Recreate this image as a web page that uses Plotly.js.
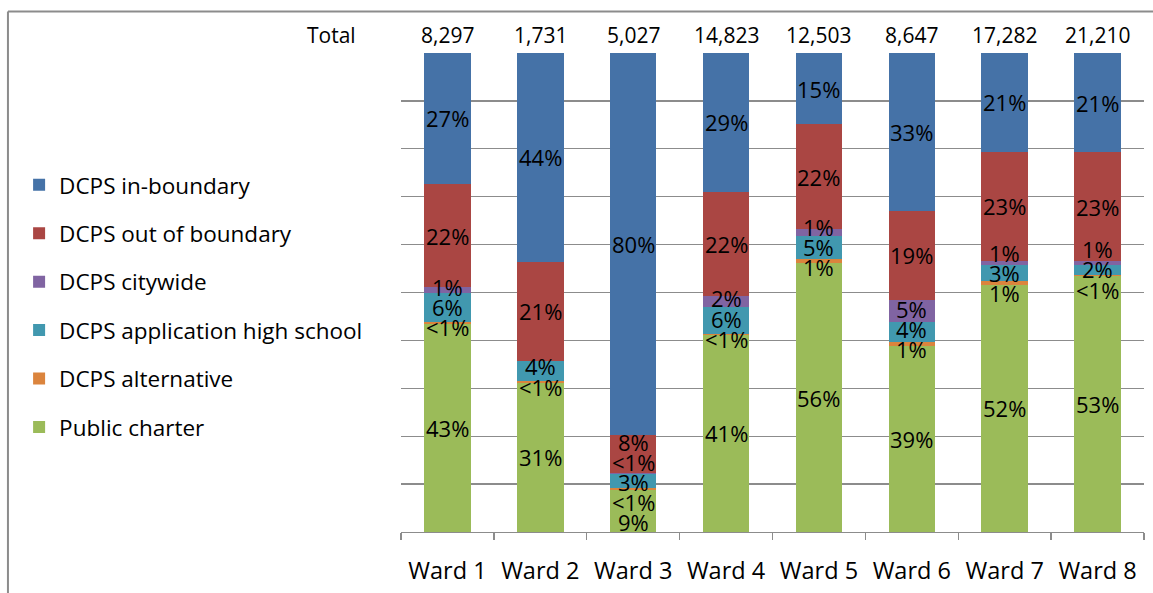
<!DOCTYPE html>
<html>
<head>
<meta charset="utf-8">
<script src="https://cdn.plot.ly/plotly-3.0.1.min.js"></script>
<style>html,body{margin:0;padding:0;background:#fff;}#chart{width:1153px;height:593px;}</style>
</head>
<body>
<div id="chart"></div>
<script>
// ---- data ----
const wards = ["Ward 1", "Ward 2", "Ward 3", "Ward 4", "Ward 5", "Ward 6", "Ward 7", "Ward 8"];
const totals = [8297, 1731, 5027, 14823, 12503, 8647, 17282, 21210];
const publicCharter   = [43.4, 31.2, 8.8, 41.2, 56.1, 38.9, 51.6, 53.4];
const dcpsAlternative = [0.4, 0.3, 0.3, 0.2, 0.8, 0.7, 0.9, 0.3];
const dcpsApplication = [6.0, 4.2, 3.0, 5.6, 5.0, 4.2, 3.2, 2.1];
const dcpsCitywide    = [1.3, 0.0, 0.2, 2.3, 1.3, 4.6, 0.9, 0.7];
const dcpsOutBoundary = [21.6, 20.7, 8.0, 21.7, 21.9, 18.7, 22.8, 22.8];
const dcpsInBoundary  = [27.3, 43.6, 79.7, 29.0, 14.9, 32.9, 20.6, 20.7];
const seriesNames = ["Public charter", "DCPS alternative", "DCPS application high school",
                     "DCPS citywide", "DCPS out of boundary", "DCPS in-boundary"];
const seriesValues = [publicCharter, dcpsAlternative, dcpsApplication, dcpsCitywide, dcpsOutBoundary, dcpsInBoundary];
const seriesColors = ["#9BBB59", "#DB843D", "#4198AF", "#8064A2", "#AA4643", "#4572A7"];

const FONT = "'Open Sans', 'DejaVu Sans', sans-serif";
const GRID = "#8c8c8c";

function fmtPct(v) {
  return Math.round(v) < 1 ? "<1%" : Math.round(v) + "%";
}

const traces = seriesNames.map((name, i) => ({
  type: "bar",
  name: name,
  x: wards,
  y: seriesValues[i],
  legendgroup: "g" + i,
  legendrank: 1000 - i * 10,
  marker: { color: seriesColors[i], line: { width: 0 } },
  hoverinfo: "skip"
}));

// ---- data labels (centred in segments, spread apart when crowded) ----
const annotations = [];
const GAP = 4.2; // minimum label spacing in axis units
wards.forEach((w, wi) => {
  let cum = 0;
  const labels = [];
  seriesValues.forEach((vals) => {
    const v = vals[wi];
    if (v > 0) labels.push({ c: cum + v / 2, t: fmtPct(v) });
    cum += v;
  });
  let clusters = labels.map(l => ({ members: [l], mean: l.c }));
  const pos = cl => cl.members.map((m, k) => cl.mean + (k - (cl.members.length - 1) / 2) * GAP);
  let changed = true;
  while (changed) {
    changed = false;
    for (let k = 0; k < clusters.length - 1; k++) {
      const a = clusters[k], b = clusters[k + 1];
      const pa = pos(a), pb = pos(b);
      if (pb[0] - pa[pa.length - 1] < GAP) {
        const members = a.members.concat(b.members);
        const mean = members.reduce((s, m) => s + m.c, 0) / members.length;
        clusters.splice(k, 2, { members, mean });
        changed = true;
        break;
      }
    }
  }
  clusters.forEach(cl => {
    const p = pos(cl);
    cl.members.forEach((m, k) => {
      annotations.push({
        x: w, y: p[k], xref: "x", yref: "y", text: m.t, showarrow: false,
        font: { family: FONT, size: 22, color: "#000" }, yanchor: "middle"
      });
    });
  });
});

// ---- totals row ----
annotations.push({
  x: -0.094, y: 1, xref: "paper", yref: "paper", text: "Total", showarrow: false,
  xanchor: "center", yanchor: "bottom", yshift: 2,
  font: { family: FONT, size: 21, color: "#000" }
});
wards.forEach((w, i) => {
  annotations.push({
    x: w, y: 1, xref: "x", yref: "paper", text: totals[i].toLocaleString("en-US"),
    showarrow: false, xanchor: "center", yanchor: "bottom", yshift: 2,
    font: { family: FONT, size: 21, color: "#000" }
  });
});

const layout = {
  width: 1153, height: 593,
  margin: { l: 401, r: 9, t: 52.5, b: 60.5, pad: 0 },
  paper_bgcolor: "#fff", plot_bgcolor: "#fff",
  barmode: "stack",
  bargap: 0.5,
  font: { family: FONT, size: 21, color: "#000" },
  showlegend: true,
  legend: {
    x: -0.514, xanchor: "left", y: 0.769, yanchor: "top",
    traceorder: "grouped", tracegroupgap: 16.2,
    font: { family: FONT, size: 22.5, color: "#000" },
    bgcolor: "rgba(0,0,0,0)"
  },
  xaxis: {
    type: "category",
    showline: true, linecolor: GRID, linewidth: 1.3,
    ticks: "outside", tickson: "boundaries", ticklen: 7, tickcolor: GRID, tickwidth: 1.3,
    ticklabelstandoff: 17,
    tickfont: { family: FONT, size: 23.5, color: "#000" },
    showgrid: false, zeroline: false, fixedrange: true
  },
  yaxis: {
    range: [0, 100], dtick: 10, tick0: 0,
    showticklabels: false, ticks: "",
    showgrid: true, gridcolor: GRID, gridwidth: 1.3,
    zeroline: false, showline: false, fixedrange: true
  },
  annotations: annotations,
  shapes: [
    { type: "line", xref: "paper", yref: "paper", x0: -0.529, x1: 1.02, y0: 1.0865, y1: 1.0865,
      line: { color: GRID, width: 2 } },
    { type: "line", xref: "paper", yref: "paper", x0: -0.529, x1: -0.529, y0: -0.13, y1: 1.0865,
      line: { color: GRID, width: 2 } }
  ]
};

Plotly.newPlot("chart", traces, layout, { displayModeBar: false, staticPlot: true });
</script>
</body>
</html>
